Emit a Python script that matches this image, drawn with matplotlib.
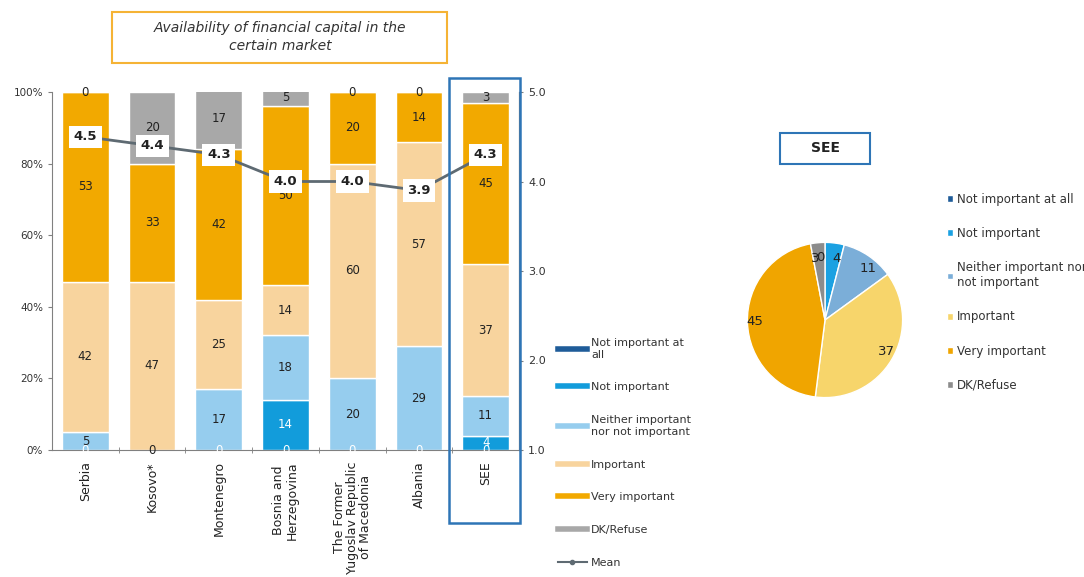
import matplotlib
matplotlib.use("Agg")
import matplotlib.pyplot as plt
from matplotlib.patches import Rectangle
from matplotlib.lines import Line2D
import numpy as np

plt.rcParams['font.family'] = ['DejaVu Sans']

countries = ["Serbia", "Kosovo*", "Montenegro", "Bosnia and\nHerzegovina",
             "The Former\nYugoslav Republic\nof Macedonia", "Albania", "SEE"]
series_names = ["Not important at\nall", "Not important", "Neither important\nnor not important",
                "Important", "Very important", "DK/Refuse"]
not_at_all = [0, 0, 0, 0, 0, 0, 0]
not_important = [0, 0, 0, 14, 0, 0, 4]
neither = [5, 0, 17, 18, 20, 29, 11]
important = [42, 47, 25, 14, 60, 57, 37]
very_important = [53, 33, 42, 50, 20, 14, 45]
dk_refuse = [0, 20, 17, 5, 0, 0, 3]
mean = [4.5, 4.4, 4.3, 4.0, 4.0, 3.9, 4.3]

pie_labels = ["Not important at all", "Not important", "Neither important nor\nnot important",
              "Important", "Very important", "DK/Refuse"]
pie_values = [0, 4, 11, 37, 45, 3]

bar_colors = ["#1F5C99", "#129CDB", "#96CDEE", "#F8D49E", "#F2A900", "#A8A8A8"]
pie_colors = ["#1F5C99", "#1BA1E2", "#7BAED8", "#F7D56B", "#F0A500", "#8C8C8C"]
text_colors = ["white", "white", "#222222", "#222222", "#222222", "#222222"]

fig = plt.figure(figsize=(10.84, 5.77), dpi=100)
ax = fig.add_axes([52/1084, 1-450/577, 467/1084, 358/577])

x = np.arange(len(countries))
data = [np.array(d, dtype=float) for d in [not_at_all, not_important, neither, important,
                                           very_important, dk_refuse]]
cum = np.cumsum(np.vstack([np.zeros(len(countries))] + data), axis=0)
handles = []
for k, (vals, col, tcol, name) in enumerate(zip(data, bar_colors, text_colors, series_names)):
    bottom = cum[k]
    ax.bar(x, vals, 0.7, bottom=bottom, color=col, edgecolor="white", linewidth=1, zorder=2)
    for i, (xi, b, v) in enumerate(zip(x, bottom, vals)):
        # a zero label that a later zero label would cover exactly is skipped
        if v == 0 and k + 1 < len(data) and data[k + 1][i] == 0:
            continue
        ax.text(xi, b + v/2, f"{int(v)}", ha="center", va="center", fontsize=8.5,
                color=tcol, zorder=5)
    handles.append(Line2D([0], [0], color=col, lw=4, label=name))

ax.set_xlim(-0.5, len(countries)-0.5)
ax.set_ylim(0, 100)
ax.set_yticks([0, 20, 40, 60, 80, 100])
ax.set_yticklabels(["0%", "20%", "40%", "60%", "80%", "100%"])
ax.set_xticks(x)
ax.set_xticklabels(countries, rotation=90, fontsize=9, color="#222222", linespacing=1.0)
ax.tick_params(axis="x", length=0, pad=8)
ax.set_xticks(np.arange(len(countries)-1) + 0.5, minor=True)
ax.tick_params(axis="x", which="minor", length=5, direction="inout", color="#808080")
ax.tick_params(axis="y", labelsize=7.5, colors="#333333", length=3, color="#808080")
ax.spines["top"].set_visible(False)
for s in ["left", "bottom", "right"]:
    ax.spines[s].set_color("#808080")

ax2 = ax.twinx()
ax2.set_ylim(1, 5)
ax2.set_yticks([1, 2, 3, 4, 5])
ax2.set_yticklabels(["1.0", "2.0", "3.0", "4.0", "5.0"])
ax2.tick_params(axis="y", labelsize=8, colors="#333333", length=3, color="#808080")
ax2.spines["top"].set_visible(False)
ax2.spines["right"].set_color("#808080")
ax2.spines["left"].set_visible(False)
ax2.spines["bottom"].set_visible(False)
ax2.plot(x, mean, color="#5E6A72", lw=2, marker="o", markersize=4, zorder=3)
for xi, m in zip(x, mean):
    ax2.text(xi, m, f"{m:.1f}", ha="center", va="center", fontsize=9.5, fontweight="bold",
             color="#222222", zorder=6,
             bbox=dict(boxstyle="square,pad=0.35", fc="white", ec="none"))
handles.append(Line2D([0], [0], color="#5E6A72", lw=1.5, marker="o", markersize=3, label="Mean"))

fig.legend(handles=handles, loc="upper left", bbox_to_anchor=(548/1084, 1-328/577),
           frameon=False, fontsize=8, labelspacing=2.05, handlelength=2.6,
           handletextpad=0.4, labelcolor="#333333")

# title box
fig.patches.append(Rectangle((112/1084, 1-63/577), 335/1084, 51/577, transform=fig.transFigure,
                             fill=False, ec="#F5B335", lw=1.5))
fig.text(280/1084, 1-37/577, "Availability of financial capital in the\ncertain market",
         ha="center", va="center", fontsize=10, style="italic", color="#333333", linespacing=1.3)

# SEE highlight
fig.patches.append(Rectangle((449/1084, 1-523/577), 71/1084, 445/577, transform=fig.transFigure,
                             fill=False, ec="#2E75B6", lw=1.8))

# pie
pax = fig.add_axes([(825-97)/1084, 1-(320+97)/577, 194/1084, 194/577])
wedges, texts = pax.pie(pie_values, colors=pie_colors, startangle=90, counterclock=False,
                        labels=[str(v) for v in pie_values], labeldistance=0.8,
                        wedgeprops=dict(edgecolor="white", linewidth=1),
                        textprops=dict(fontsize=9.5, color="#222222"))
pax.set_aspect("equal")

fig.patches.append(Rectangle((780/1084, 1-164/577), 90/1084, 31/577, transform=fig.transFigure,
                             fill=False, ec="#2E75B6", lw=1.5))
fig.text(825/1084, 1-148/577, "SEE", ha="center", va="center", fontsize=10,
         fontweight="bold", color="#222222")

fig.legend(wedges, pie_labels, loc="upper left", bbox_to_anchor=(936/1084, 1-182/577),
           frameon=False, fontsize=8.5, labelspacing=1.8, handlelength=0.5, handleheight=0.5,
           handletextpad=0.4, labelcolor="#333333")

fig.savefig("out.png", dpi=100)
